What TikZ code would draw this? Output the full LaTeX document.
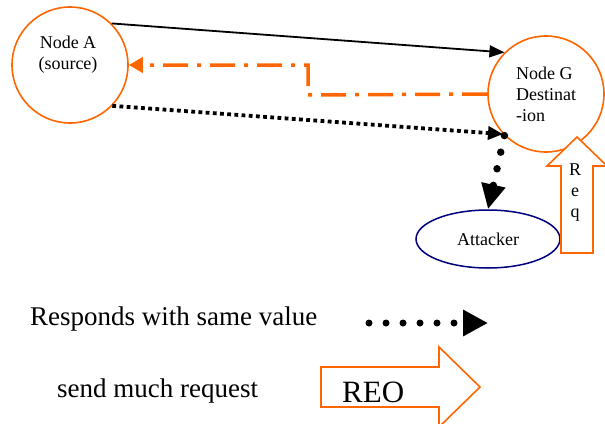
\documentclass[tikz,border=0pt]{standalone}
\usepackage{fontspec}
\setmainfont{Liberation Serif}
\usetikzlibrary{arrows,arrows.meta,positioning,shapes.geometric}
\definecolor{orng}{RGB}{255,102,0}
\definecolor{navyblue}{RGB}{0,0,128}

\begin{document}
\begin{tikzpicture}[x=1pt,y=-1pt]
\tikzstyle{station} = [draw=orng, line width=1.6pt, circle, minimum size=116pt, inner sep=0pt]
\tikzstyle{blockarrow} = [draw=orng, line width=1.6pt, fill=white]
\tikzset{nodetxt/.style={font=\fontsize{18}{21}\selectfont, inner sep=0pt}}
\tikzset{legtxt/.style={font=\fontsize{27}{30}\selectfont, inner sep=0pt}}
\useasboundingbox (0,0) rectangle (605,423);

% the two end nodes and the attacker
\node[station] (A) at (70,65) {};
\node[nodetxt, align=center] (Atxt) at (68,55) {Node A\\(source)};
\node[station, nodetxt, align=left] (G) at (546,94) {Node G\\Destinat\\-ion};
\node[draw=navyblue, line width=1.5pt, ellipse, minimum width=144pt, minimum height=58pt, nodetxt] (att) at (488,239) {Attacker};

\draw[line width=1.8pt, -{Triangle[length=15pt,width=12pt]}] (A.45) -- (G.135);
\coordinate (bend) at (308,95);
\draw[orng, line width=3.5pt, dash pattern=on 25pt off 9pt on 4pt off 9pt, -{Triangle[length=14pt,width=15pt]}] (G.west) -- (bend) |- (A.east);
\draw[line width=3.8pt, dash pattern=on 3.8pt off 3.4pt, -{Triangle[length=15pt,width=13pt]}] (A.-44) -- (G.223);
\draw[line width=7.5pt, line cap=round, dash pattern=on 0pt off 17pt, -{Triangle[length=25pt,width=23pt]}] (G.225) -- (att.north);

% request arrow
\draw[blockarrow] (577,137) -- (607,166) -- (593,166) -- (593,253) -- (561,253) -- (561,166) -- (547,166) -- cycle;
\node[nodetxt, align=center] (req) at (575,193) {R\\e\\q};

% legend
\node[legtxt, anchor=base west] (resp) at (30,325) {Responds with same value};
\coordinate (legS) at (369,323);
\coordinate (legE) at (488,323);
\draw[line width=7pt, line cap=round, dash pattern=on 0pt off 17pt, -{Triangle[length=25pt,width=25pt]}] (legS) -- (legE);
\node[legtxt, anchor=base west] (send) at (57,397) {send much request};
\draw[blockarrow] (321,367) -- (439,367) -- (439,347) -- (480,387) -- (439,427) -- (439,407) -- (321,407) -- cycle;
\node[font=\fontsize{31}{34}\selectfont, inner sep=0pt, anchor=base west] (reo) at (342,402) {REO};
\end{tikzpicture}
\end{document}
